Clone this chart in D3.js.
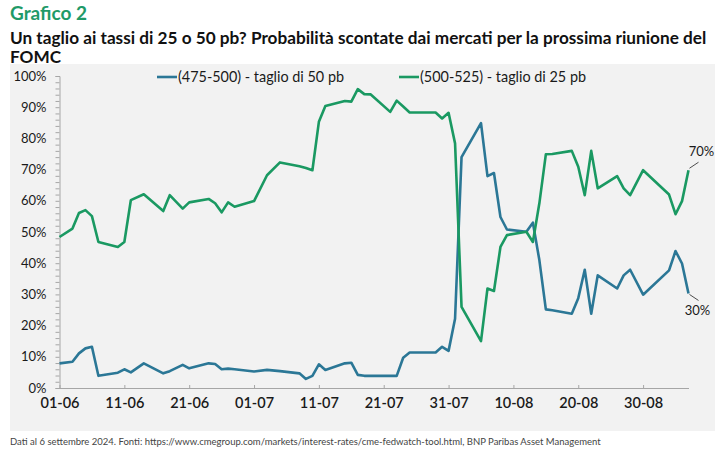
<!DOCTYPE html>
<html>
<head>
<meta charset="utf-8">
<script src="https://cdn.jsdelivr.net/npm/d3@7"></script>
<style>
  body { margin: 0; background: #fff; }
  svg { display: block; font-family: Lato, "Open Sans", sans-serif; }
</style>
</head>
<body>
<script>
// values (dd-mm, 2024)
let dates = ['01-06','03-06','04-06','05-06','06-06','07-06','10-06','11-06','12-06','14-06',
  '17-06','18-06','20-06','21-06','24-06','25-06','26-06','27-06','28-06','01-07',
  '03-07','05-07','08-07','09-07','10-07','11-07','12-07','15-07','16-07','17-07',
  '18-07','19-07','22-07','23-07','24-07','25-07','29-07','30-07','31-07','01-08',
  '02-08','05-08','06-08','07-08','08-08','09-08','12-08','13-08','14-08','15-08',
  '16-08','19-08','20-08','21-08','22-08','23-08','26-08','27-08','28-08','30-08',
  '03-09','04-09','05-09','06-09'];

// (475-500) - taglio di 50 pb
let cut50 = [7.9, 8.4, 11.1, 12.7, 13.2, 3.9, 4.9, 6.0, 5.0, 7.9,
  4.7, 5.4, 7.4, 6.3, 7.9, 7.7, 6.0, 6.2, 6.0, 5.3,
  5.8, 5.4, 4.7, 2.9, 3.9, 7.6, 5.8, 7.9, 8.1, 4.2,
  3.9, 3.9, 3.9, 3.9, 9.7, 11.4, 11.4, 13.2, 11.9, 22.2,
  74.0, 84.9, 67.9, 68.9, 54.8, 50.8, 50.1, 53.0, 41.0, 25.2,
  24.9, 23.8, 28.8, 37.9, 23.8, 36.1, 31.9, 36.1, 37.9, 29.9,
  37.7, 43.9, 39.9, 30.3];

// (500-525) - taglio di 25 pb
let cut25 = [48.4, 51.1, 56.1, 57.0, 55.1, 46.8, 45.2, 46.8, 60.2, 62.1,
  56.7, 61.8, 57.5, 59.5, 60.6, 59.2, 56.3, 59.5, 58.1, 59.9,
  68.2, 72.3, 71.1, 70.5, 69.8, 85.3, 90.4, 92.0, 91.8, 95.8,
  94.2, 94.1, 88.5, 92.1, 90.2, 88.3, 88.3, 86.4, 88.2, 78.4,
  26.0, 15.0, 31.9, 31.1, 45.2, 49.0, 50.1, 46.8, 59.2, 74.9,
  75.0, 76.0, 70.9, 61.8, 76.0, 64.0, 67.9, 64.0, 61.8, 69.8,
  62.0, 55.7, 59.9, 69.8];

let xTickLabels = ['01-06','11-06','21-06','01-07','11-07','21-07','31-07','10-08','20-08','30-08'];
let yTickValues = [0, 10, 20, 30, 40, 50, 60, 70, 80, 90, 100];

let seriesNames = ['(475-500) - taglio di 50 pb', '(500-525) - taglio di 25 pb'];
let seriesColors = ['#2b7796', '#1a9962'];

let w = 725;
let h = 456;

let parseDay = d3.timeParse('%d-%m-%Y');
let toDate = s => parseDay(s + '-2024');

let svg = d3.select('body')
  .append('svg')
  .attr('width', w)
  .attr('height', h);

// header
svg.append('text')
  .attr('x', 10).attr('y', 20)
  .style('font-size', '19px').style('font-weight', 700)
  .style('fill', '#1f9a68')
  .text('Grafico 2');

svg.append('text')
  .attr('x', 10).attr('y', 44)
  .style('font-size', '17.2px').style('font-weight', 700)
  .style('fill', '#111')
  .text('Un taglio ai tassi di 25 o 50 pb? Probabilità scontate dai mercati per la prossima riunione del');

// grey panel
svg.append('rect')
  .attr('x', 10).attr('y', 64)
  .attr('width', 705).attr('height', 367)
  .style('fill', '#f2f2f2');

svg.append('text')
  .attr('x', 10).attr('y', 63)
  .style('font-size', '17.2px').style('font-weight', 700)
  .style('fill', '#111')
  .text('FOMC');

// scales
let xScale = d3.scaleTime()
  .domain([toDate('01-06'), toDate('06-09')])
  .range([59.5, 688.5]);

let yScale = d3.scaleLinear()
  .domain([0, 100])
  .range([388, 76]);

// y axis: labels at every 10%, small ticks every 2%
let yAxis = d3.axisLeft(yScale)
  .tickValues(d3.range(0, 101, 2))
  .tickSize(4)
  .tickFormat(d => yTickValues.includes(d) ? d + '%' : '');

let gy = svg.append('g')
  .attr('transform', 'translate(' + xScale.range()[0] + ',0)')
  .call(yAxis);
gy.select('.domain').style('stroke', '#a6a6a6');
gy.selectAll('.tick line').style('stroke', '#a6a6a6');
gy.selectAll('.tick text')
  .attr('x', -13)
  .style('font-size', '13px')
  .style('fill', '#1a1a1a')
  .style('font-family', 'Lato');

// x axis
let xAxis = d3.axisBottom(xScale)
  .tickValues(xTickLabels.map(toDate))
  .tickSize(-3)
  .tickSizeOuter(0)
  .tickFormat(d3.timeFormat('%d-%m'));

let gx = svg.append('g')
  .attr('transform', 'translate(0,' + yScale(0) + ')')
  .call(xAxis);
gx.select('.domain').style('stroke', '#a6a6a6');
gx.selectAll('.tick line').style('stroke', '#a6a6a6');
gx.selectAll('.tick text')
  .attr('y', 10)
  .style('font-size', '14.5px')
  .style('font-weight', 600)
  .style('fill', '#1a1a1a')
  .style('font-family', 'Lato');

// lines
let line = d3.line()
  .x(d => xScale(d[0]))
  .y(d => yScale(d[1]));

[cut50, cut25].forEach((vals, i) => {
  let pts = dates.map((d, j) => [toDate(d), vals[j]]);
  svg.append('path')
    .datum(pts)
    .attr('d', line)
    .style('fill', 'none')
    .style('stroke', seriesColors[i])
    .style('stroke-width', 2.6)
    .style('stroke-linejoin', 'round');
});

// end labels
let lastDate = toDate(dates[dates.length - 1]);
let endX = xScale(lastDate);
let end25 = yScale(cut25[cut25.length - 1]);
let end50 = yScale(cut50[cut50.length - 1]);

svg.append('line')
  .attr('x1', endX + 1).attr('y1', end25 - 2)
  .attr('x2', endX + 10).attr('y2', end25 - 8)
  .style('stroke', '#222').style('stroke-width', 0.8);
svg.append('text')
  .attr('x', endX + 13).attr('y', end25 - 14)
  .attr('text-anchor', 'middle')
  .style('font-size', '13px').style('fill', '#1a1a1a')
  .text(Math.round(cut25[cut25.length - 1]) + '%');

svg.append('line')
  .attr('x1', endX + 1).attr('y1', end50 + 1)
  .attr('x2', endX + 10).attr('y2', end50 + 7)
  .style('stroke', '#222').style('stroke-width', 0.8);
svg.append('text')
  .attr('x', endX + 9).attr('y', end50 + 22)
  .attr('text-anchor', 'middle')
  .style('font-size', '13px').style('fill', '#1a1a1a')
  .text(Math.round(cut50[cut50.length - 1]) + '%');

// legend
let legendX = [157, 399];
seriesNames.forEach((name, i) => {
  let g = svg.append('g').attr('transform', 'translate(' + legendX[i] + ',77)');
  g.append('line')
    .attr('x1', 0).attr('x2', 20)
    .style('stroke', seriesColors[i]).style('stroke-width', 2.6);
  g.append('text')
    .attr('x', 21).attr('dy', '0.35em')
    .style('font-size', '14.4px').style('fill', '#1a1a1a')
    .text(name);
});

// footnote
svg.append('text')
  .attr('x', 10).attr('y', 445)
  .style('font-size', '9.5px').style('fill', '#444')
  .text('Dati al 6 settembre 2024. Fonti: https://www.cmegroup.com/markets/interest-rates/cme-fedwatch-tool.html, BNP Paribas Asset Management');
</script>
</body>
</html>
